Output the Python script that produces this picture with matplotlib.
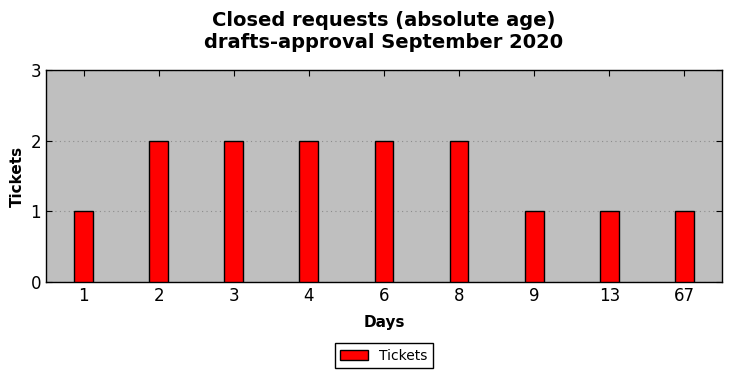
import matplotlib
matplotlib.use('Agg')
import matplotlib.pyplot as plt
import numpy as np

# ── Data ──────────────────────────────────────────────────────────────────────
days = ['1', '2', '3', '4', '6', '8', '9', '13', '67']
tickets = [1, 2, 2, 2, 2, 2, 1, 1, 1]

# ── Plot ──────────────────────────────────────────────────────────────────────
fig = plt.figure(figsize=(7.31, 3.78), dpi=100)
ax = fig.add_axes([46/731, 1 - 282/378, 676/731, 212/378])
ax.set_facecolor('#bfbfbf')

x = np.arange(len(days))
ax.bar(x, tickets, width=0.25, color='#ff0000', edgecolor='black', lw=1,
       label='Tickets', zorder=3)

ax.set_xlim(-0.5, len(days) - 0.5)
ax.set_ylim(0, 3)
ax.set_xticks(x)
ax.set_xticklabels(days)
ax.set_yticks([0, 1, 2, 3])
ax.tick_params(direction='in', top=True, right=True, labelsize=12, length=4)
ax.yaxis.grid(True, color='#8c8c8c', linestyle=(0, (1, 3)), lw=0.8, zorder=1)
for s in ax.spines.values():
    s.set_linewidth(1)

ax.set_xlabel('Days', fontsize=11, fontweight='bold', labelpad=7)
ax.set_ylabel('Tickets', fontsize=11, fontweight='bold')
ax.set_title('Closed requests (absolute age)\ndrafts-approval September 2020',
             fontsize=14, fontweight='bold', pad=16)

ax.legend(loc='upper center', bbox_to_anchor=(0.5, -0.255), fontsize=10,
          fancybox=False, edgecolor='black', framealpha=1,
          handlelength=2, borderpad=0.4)

fig.savefig('out.png', dpi=100)
